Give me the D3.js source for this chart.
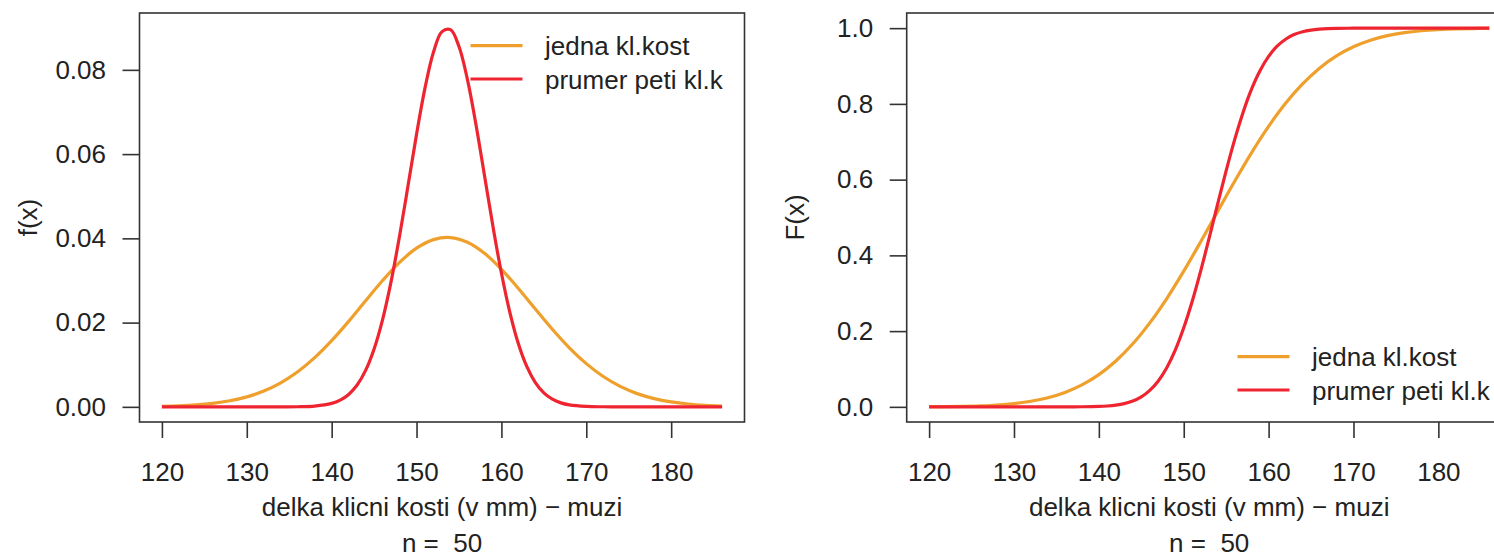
<!DOCTYPE html>
<html lang="cs">
<head>
  <meta charset="UTF-8" />
  <title>Hustota a distribucni funkce - delka klicni kosti</title>
  <script src="https://cdn.jsdelivr.net/npm/d3@7"></script>
  <style>
    body { margin: 0; background: #fff; overflow: hidden; }
    svg text { font-family: "Liberation Sans", Arial, sans-serif; fill: #222; white-space: pre; }
  </style>
</head>
<body>
  <div id="chart"></div>
  <script>
    // delka klicni kosti (mm)
    const xsOne = [120, 122, 124, 126, 128, 130, 132, 134, 136, 138, 140, 142, 144, 146, 148, 150, 152,
                   154, 156, 158, 160, 162, 164, 166, 168, 170, 172, 174, 176, 178, 180, 182, 184, 186];
    // the narrow curve is read more densely around its centre
    const xsFive = [120, 122, 124, 126, 128, 130, 132, 134, 136, 138,
                    140, 141, 142, 143, 144, 145, 146, 147, 148, 149, 150, 151, 152, 153, 154,
                    155, 156, 157, 158, 159, 160, 161, 162, 163, 164, 165, 166, 167, 168,
                    170, 172, 174, 176, 178, 180, 182, 184, 186];

    // density, one bone
    const densOne = [0.00013, 0.00025, 0.00047, 0.00084, 0.00144, 0.00237, 0.00376, 0.00571, 0.00833,
                     0.01168, 0.01571, 0.0203, 0.02518, 0.02999, 0.0343, 0.03766, 0.0397, 0.04019,
                     0.03906, 0.03645, 0.03266, 0.0281, 0.02321, 0.01841, 0.01402, 0.01026, 0.0072,
                     0.00485, 0.00314, 0.00195, 0.00117, 0.00067, 0.00037, 0.00019];
    // density, mean of five bones
    const densFive = [0, 0, 0, 0, 0, 0, 0, 0.00001, 0.00003, 0.00019,
                      0.00082, 0.00159, 0.00295, 0.00518, 0.00865, 0.01374, 0.02073, 0.02973, 0.04054,
                      0.05252, 0.06468, 0.07571, 0.08424, 0.08908, 0.08954, 0.08553, 0.07767, 0.06703,
                      0.05498, 0.04287, 0.03176, 0.02238, 0.01498, 0.00953, 0.00576, 0.00331, 0.00181,
                      0.00094, 0.00046,
                      0.0001, 0.00002, 0, 0, 0, 0, 0, 0, 0];

    // distribution function, one bone
    const cdfOne = [0.00035, 0.00072, 0.00142, 0.0027, 0.00493, 0.00868, 0.01474, 0.02408, 0.038,
                    0.0579, 0.0852, 0.1212, 0.1665, 0.2218, 0.2861, 0.3583, 0.436, 0.5161, 0.5956,
                    0.6714, 0.7406, 0.8015, 0.8527, 0.8944, 0.9267, 0.9508, 0.9682, 0.9801, 0.988,
                    0.9931, 0.9961, 0.9979, 0.9989, 0.99945];
    // distribution function, mean of five bones
    const cdfFive = [0, 0, 0, 0, 0, 0, 0, 0, 0.00004, 0.00022,
                     0.00109, 0.00226, 0.00447, 0.00845, 0.01524, 0.0263, 0.0434, 0.0685, 0.1035,
                     0.1499, 0.2087, 0.2789, 0.3591, 0.4463, 0.5359, 0.6238, 0.7057, 0.7782, 0.8394,
                     0.8882, 0.9254, 0.9523, 0.9708, 0.983, 0.9905, 0.9949, 0.9974, 0.99874, 0.99941,
                     0.99989, 0.99998, 1, 1, 1, 1, 1, 1, 1];

    const xTicks = [120, 130, 140, 150, 160, 170, 180];
    const densTicks = [0, 0.02, 0.04, 0.06, 0.08];
    const cdfTicks = [0, 0.2, 0.4, 0.6, 0.8, 1.0];
    const seriesNames = ["jedna kl.kost", "prumer peti kl.k"];
    const colors = ["#efa02c", "#ee2530"];
    const xTitle = "delka klicni kosti (v mm) \u2212 muzi";
    const subTitle = "n =  50";

    const W = 1494, H = 556, FS = 26;
    const svg = d3.select("#chart").append("svg")
      .attr("width", W).attr("height", H);

    // draw one R-like panel
    function panel(opts) {
      const left = opts.left, right = opts.left + 605, top = 13, bottom = 422;

      // R style: data range extended 4% on each side
      const xExt = d3.extent(xsOne), xPad = (xExt[1] - xExt[0]) * 0.04;
      const x = d3.scaleLinear().domain([xExt[0] - xPad, xExt[1] + xPad]).range([left, right]);
      const yMax = opts.yMax, yPad = yMax * 0.04;
      const y = d3.scaleLinear().domain([-yPad, yMax + yPad]).range([bottom, top]);

      const g = svg.append("g");

      // curves
      opts.series.forEach((s, i) => {
        const xv = opts.xsets[i];
        const line = d3.line().curve(d3.curveCatmullRom.alpha(0.5))
          .x((d, j) => x(xv[j])).y(d => y(d));
        g.append("path").datum(s)
          .attr("fill", "none")
          .attr("stroke", colors[i])
          .attr("stroke-width", 3.2)
          .attr("d", line);
      });

      // box
      g.append("rect")
        .attr("x", left).attr("y", top)
        .attr("width", right - left).attr("height", bottom - top)
        .attr("fill", "none").attr("stroke", "#333").attr("stroke-width", 1.6);

      // x axis
      const xa = g.append("g")
        .attr("transform", `translate(0,${bottom})`)
        .call(d3.axisBottom(x).tickValues(xTicks).tickSize(16).tickPadding(25));
      xa.select(".domain").remove();
      xa.selectAll("line").attr("stroke", "#333").attr("stroke-width", 1.6);
      xa.selectAll("text").attr("font-size", FS).attr("fill", "#222");

      // y axis
      const ya = g.append("g")
        .attr("transform", `translate(${left},0)`)
        .call(d3.axisLeft(y).tickValues(opts.yTicks).tickSize(17).tickFormat(opts.fmt).tickPadding(16.5));
      ya.select(".domain").remove();
      ya.selectAll("line").attr("stroke", "#333").attr("stroke-width", 1.6);
      ya.selectAll("text").attr("font-size", FS).attr("fill", "#222");

      // axis titles
      const cx = (left + right) / 2;
      g.append("text").attr("x", cx).attr("y", 516).attr("text-anchor", "middle")
        .attr("font-size", FS).text(xTitle);
      g.append("text").attr("x", cx).attr("y", 552).attr("text-anchor", "middle")
        .attr("font-size", FS).text(subTitle);
      g.append("text")
        .attr("transform", `translate(${opts.yLabelX},${(top + bottom) / 2}) rotate(-90)`)
        .attr("text-anchor", "middle").attr("font-size", FS).text(opts.yLabel);

      // legend (no border)
      seriesNames.forEach((name, i) => {
        const ly = opts.legY + i * 33.3;
        g.append("line")
          .attr("x1", opts.legX).attr("x2", opts.legX + 52)
          .attr("y1", ly).attr("y2", ly)
          .attr("stroke", colors[i]).attr("stroke-width", 3.2);
        g.append("text")
          .attr("x", opts.legX + 74.5).attr("y", ly + 9.5)
          .attr("font-size", FS).text(name);
      });
    }

    panel({
      left: 139.5, yMax: 0.0899, series: [densOne, densFive], xsets: [xsOne, xsFive],
      yTicks: densTicks, fmt: d3.format(".2f"), yLabel: "f(x)", yLabelX: 37,
      legX: 470.5, legY: 45.7
    });

    panel({
      left: 906.7, yMax: 1, series: [cdfOne, cdfFive], xsets: [xsOne, xsFive],
      yTicks: cdfTicks, fmt: d3.format(".1f"), yLabel: "F(x)", yLabelX: 804,
      legX: 1237.5, legY: 356.7
    });
  </script>
</body>
</html>
